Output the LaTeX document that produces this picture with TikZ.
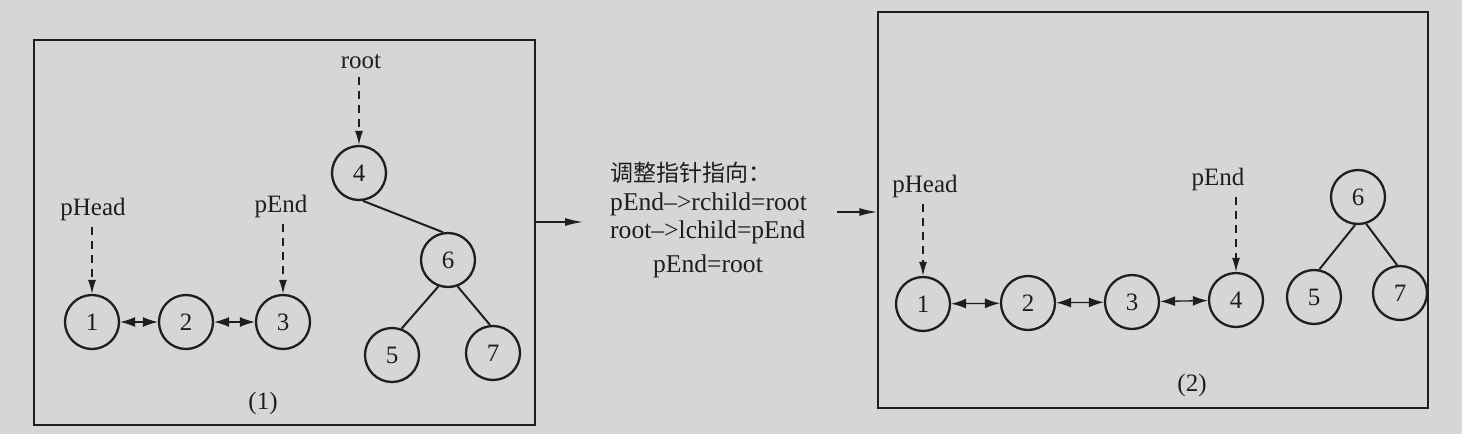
\documentclass[tikz,border=0pt]{standalone}
\usepackage{fontspec}
\setmainfont{Liberation Serif}
\newfontfamily\cjkfont{Noto Sans CJK SC}
\usetikzlibrary{arrows.meta}
\definecolor{paper}{RGB}{214,214,212}
\definecolor{ink}{RGB}{30,30,30}
\begin{document}
\begin{tikzpicture}[x=1pt,y=-1pt,
  every node/.style={font=\fontsize{25}{30}\selectfont, text=ink},
  nd/.style={circle, draw=ink, line width=2.3pt, minimum size=54pt, inner sep=0pt},
  lbl/.style={inner sep=0pt, text height=17pt, text depth=6pt},
  frame/.style={draw=ink, line width=1.5pt, rectangle, inner sep=0pt},
  ptr/.style={draw=ink, line width=1.3pt, dash pattern=on 8pt off 6pt, -{Latex[length=14pt,width=8pt]}, shorten <=6pt},
  dbl/.style={draw=ink, line width=1.3pt, {Latex[length=15pt,width=10pt]}-{Latex[length=15pt,width=10pt]}},
  edge/.style={draw=ink, line width=2pt},
  flow/.style={draw=ink, line width=1.5pt, -{Latex[length=18pt,width=8pt]}}
]
\fill[paper] (0,0) rectangle (1462,434);
\useasboundingbox (0,0) rectangle (1462,434);

% ---------- frames ----------
\node[frame, minimum width=501pt, minimum height=385pt] (boxL) at (284.5,232.5) {};
\node[frame, minimum width=550pt, minimum height=396pt] (boxR) at (1153,210) {};

% ---------- panel (1) ----------
\node[nd] (L1) at (92,322) {1};
\node[nd] (L2) at (186,322) {2};
\node[nd] (L3) at (283,322) {3};
\node[nd] (L4) at (359,173) {4};
\node[nd] (L6) at (448,260) {6};
\node[nd] (L5) at (392,355) {5};
\node[nd] (L7) at (493,353) {7};

\node[lbl] (LpHead) at (93,209.5) {pHead};
\node[lbl] (LpEnd) at (281,206.5) {pEnd};
\node[lbl] (Lroot) at (361,63) {root};

\draw[ptr] (LpHead.south -| L1.north) -- (L1.north);
\draw[ptr] (LpEnd.south -| L3.north) -- (L3.north);
\draw[ptr, shorten <=2pt] (Lroot.south -| L4.north) -- (L4.north);

\draw[dbl] (L1) -- (L2);
\draw[dbl] (L2) -- (L3);

\draw[edge] (L4.-82) -- (L6.100);
\draw[edge] (L6.-110) -- (L5.70);
\draw[edge] (L6.-70) -- (L7.96);

\node (cap1) at (263,403) {(1)};

% ---------- middle text ----------
\node[anchor=base west, inner sep=0pt, font=\fontsize{23}{28}\selectfont] (t1) at (610,181) {\cjkfont 调整指针指向：};
\node[anchor=base west, inner sep=0pt, font=\fontsize{25.6}{30}\selectfont] (t2) at (610,210) {pEnd–>rchild=root};
\node[anchor=base west, inner sep=0pt, font=\fontsize{25.6}{30}\selectfont] (t3) at (610,238) {root–>lchild=pEnd};
\node[anchor=base, inner sep=0pt, font=\fontsize{25.6}{30}\selectfont] (t4) at (708,272) {pEnd=root};

\coordinate (a1) at (583,222);
\draw[flow] (a1 -| boxL.east) -- (a1);
\coordinate (a2) at (837,212);
\draw[flow] (a2) -- (a2 -| boxR.west);

% ---------- panel (2) ----------
\node[nd] (R1) at (923,304) {1};
\node[nd] (R2) at (1028,303) {2};
\node[nd] (R3) at (1132,302) {3};
\node[nd] (R4) at (1236,300) {4};
\node[nd] (R6) at (1358,197) {6};
\node[nd] (R5) at (1314,297) {5};
\node[nd] (R7) at (1400,293) {7};

\node[lbl] (RpHead) at (925,186.5) {pHead};
\node[lbl] (RpEnd) at (1218,179.5) {pEnd};

\draw[ptr] (RpHead.south -| R1.north) -- (R1.north);
\draw[ptr] (RpEnd.south -| R4.north) -- (R4.north);

\draw[dbl] (R1) -- (R2);
\draw[dbl] (R2) -- (R3);
\draw[dbl] (R3) -- (R4);

\draw[edge] (R6.-96) -- (R5.79);
\draw[edge] (R6.-73) -- (R7.96);

\node (cap2) at (1192,385) {(2)};
\end{tikzpicture}
\end{document}
